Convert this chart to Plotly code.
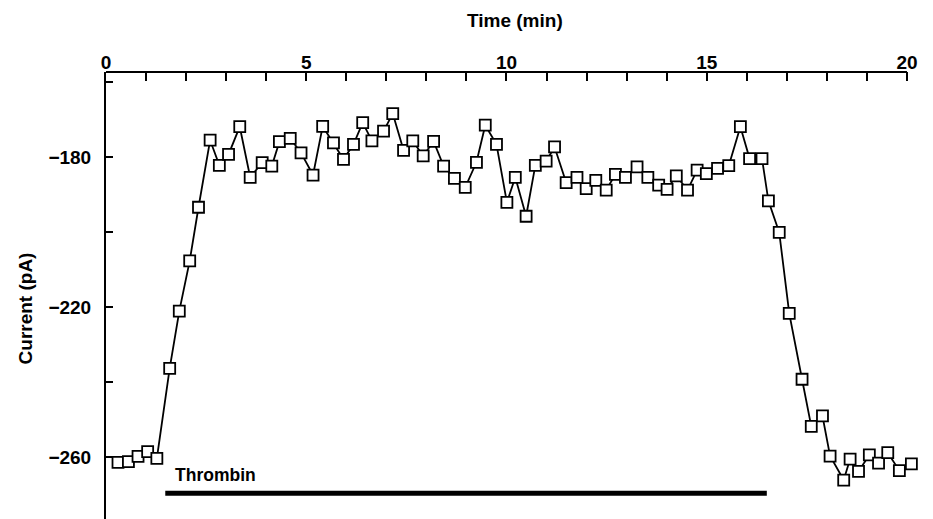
import plotly.graph_objects as go

time_min = [0.30, 0.56, 0.80, 1.04, 1.27, 1.59, 1.83, 2.09, 2.31, 2.60,
            2.83, 3.06, 3.34, 3.60, 3.90, 4.14, 4.33, 4.60, 4.87, 5.17,
            5.41, 5.68, 5.93, 6.18, 6.41, 6.64, 6.93, 7.16, 7.43, 7.66,
            7.92, 8.18, 8.43, 8.70, 8.97, 9.25, 9.47, 9.75, 10.01, 10.22,
            10.49, 10.72, 10.99, 11.20, 11.49, 11.76, 11.99, 12.23, 12.49, 12.72,
            12.97, 13.26, 13.53, 13.80, 14.01, 14.24, 14.52, 14.76, 14.99, 15.27,
            15.55, 15.84, 16.07, 16.38, 16.54, 16.81, 17.06, 17.38, 17.61, 17.89,
            18.08, 18.42, 18.58, 18.79, 19.06, 19.29, 19.52, 19.81, 20.11]
current_pA = [-261.4, -261.2, -259.8, -258.5, -260.3, -236.3, -221.0, -207.6, -193.3, -175.4,
              -182.1, -179.2, -171.8, -185.3, -181.4, -182.3, -175.8, -174.9, -178.8, -184.7,
              -171.7, -176.1, -180.5, -176.5, -170.7, -175.6, -173.0, -168.3, -178.1, -175.6,
              -179.6, -175.7, -182.3, -185.6, -188.0, -181.3, -171.4, -176.5, -192.0, -185.3,
              -195.7, -182.1, -181.0, -177.2, -186.7, -185.3, -188.3, -186.1, -188.7, -184.5,
              -185.3, -182.5, -185.3, -187.4, -188.5, -184.9, -188.7, -183.4, -184.3, -182.9,
              -182.2, -171.8, -180.3, -180.3, -191.6, -200.0, -221.6, -239.2, -251.8, -249.0,
              -259.7, -266.1, -260.5, -263.8, -259.4, -261.6, -258.8, -263.6, -261.8]

thrombin_start, thrombin_end, thrombin_level = 1.48, 16.5, -269.6
thrombin_label = "Thrombin"
x_ticks = [0, 5, 10, 15, 20]
y_ticks = [-260, -220, -180]
x_axis_end = 20
x_view_max = 20.35

FONT = "Liberation Sans, Arial, sans-serif"
PX_PER_MIN = 801 / 20.0
plot_w = PX_PER_MIN * x_view_max

fig = go.Figure()
fig.add_trace(go.Scatter(
    x=[thrombin_start, thrombin_end], y=[thrombin_level, thrombin_level],
    mode="lines", line=dict(color="black", width=5), hoverinfo="skip",
    showlegend=False, cliponaxis=False))
fig.add_trace(go.Scatter(
    x=time_min, y=current_pA, mode="lines+markers",
    line=dict(color="black", width=1.8),
    marker=dict(symbol="square", size=11, color="white",
                line=dict(color="black", width=1.8)),
    showlegend=False, cliponaxis=False))

# top axis line (from 0 to 20 min only)
fig.add_shape(type="line", xref="x", yref="paper", x0=0, x1=x_axis_end, y0=1, y1=1,
              line=dict(color="black", width=2), layer="above")

fig.add_annotation(x=thrombin_start + 0.2, y=-264.7, text=thrombin_label,
                   showarrow=False, xanchor="left", yanchor="middle",
                   font=dict(family=FONT, size=17.5, color="black", weight="bold"))
fig.add_annotation(xref="paper", yref="paper", x=(514.7 - 105.7) / plot_w, y=(519 - 20) / 447.3,
                   text="Time (min)", showarrow=False, xanchor="center",
                   yanchor="middle",
                   font=dict(family=FONT, size=19, color="black", weight="bold"))
fig.add_annotation(xref="paper", yref="paper", x=(25 - 105.7) / plot_w, y=(519 - 308) / 447.3,
                   text="Current (pA)", textangle=-90, showarrow=False,
                   xanchor="center", yanchor="middle",
                   font=dict(family=FONT, size=19, color="black", weight="bold"))

fig.update_layout(
    width=933, height=519,
    margin=dict(l=105.7, r=933 - 105.7 - plot_w, t=71.7, b=0, pad=0),
    paper_bgcolor="white", plot_bgcolor="white",
    font=dict(family=FONT, size=19, color="black", weight="bold"),
    xaxis=dict(side="top", range=[0, x_view_max], tickvals=x_ticks,
               showline=False,
               ticks="inside", ticklen=9, tickwidth=2, tickcolor="black",
               minor=dict(dtick=1, tick0=0, ticks="inside", ticklen=9,
                          tickwidth=2, tickcolor="black"),
               tickfont=dict(family=FONT, size=19, color="black", weight="bold"),
               showgrid=False, zeroline=False, ticklabelstandoff=-2),
    yaxis=dict(range=[-276.5, -157.2], tickvals=y_ticks,
               showline=True, linecolor="black", linewidth=2,
               ticks="inside", ticklen=7, tickwidth=2, tickcolor="black",
               minor=dict(dtick=20, tick0=-260, ticks="inside", ticklen=7,
                          tickwidth=2, tickcolor="black"),
               tickfont=dict(family=FONT, size=19, color="black", weight="bold"),
               showgrid=False, zeroline=False, ticklabelstandoff=9),
)

fig.write_html("out.html")
